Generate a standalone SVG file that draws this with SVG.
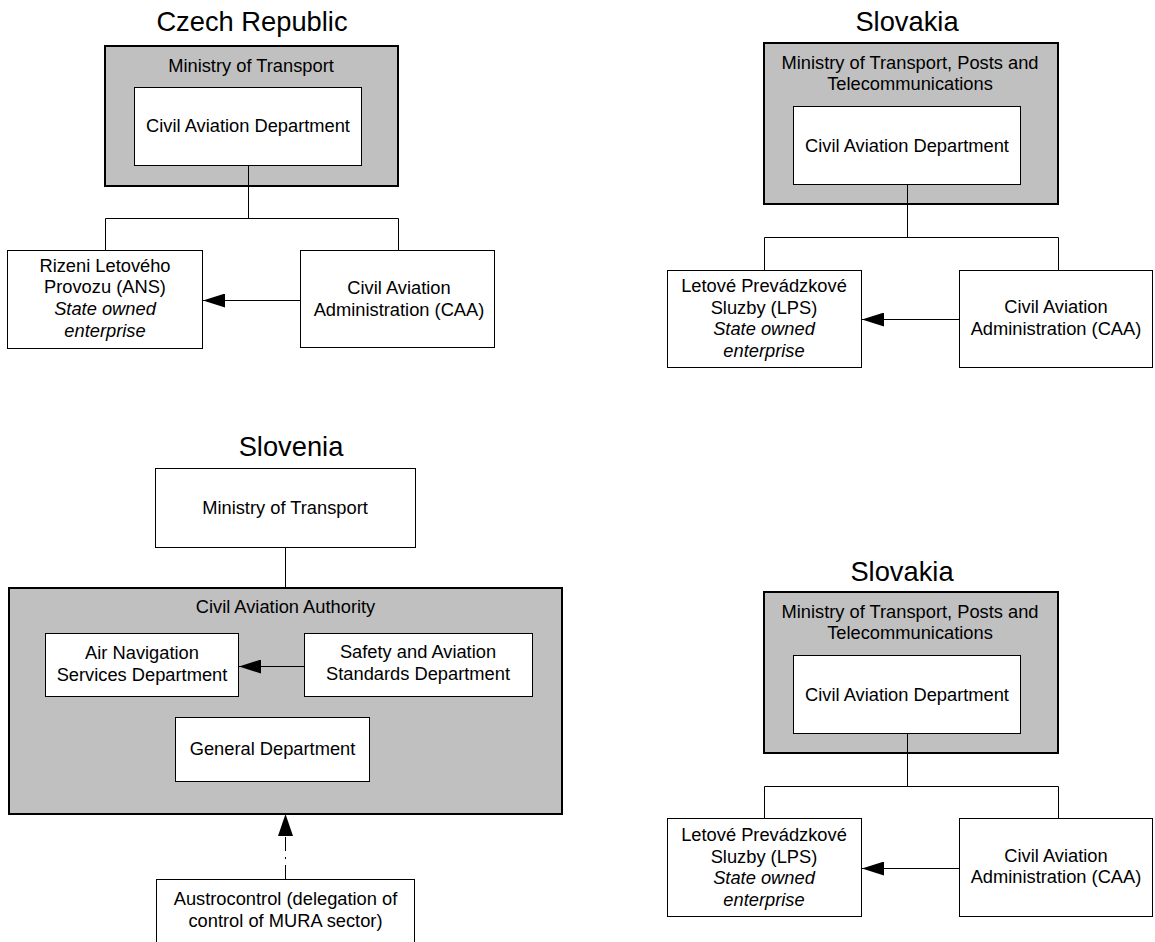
<svg xmlns="http://www.w3.org/2000/svg" width="1155" height="942" viewBox="0 0 1155 942">
<defs>
<style>
text{font-family:"Liberation Sans",Arial,sans-serif;font-size:18.3px;fill:#000;text-anchor:middle}
.title{font-size:27.3px}
.it{font-style:italic}
.outer{fill:#c0c0c0;stroke:#000;stroke-width:2}
.box{fill:#fff;stroke:#000;stroke-width:1}
.con{fill:none;stroke:#000;stroke-width:1}
.dd{stroke-dasharray:14,6,2,6}
</style>
<marker id="arr" markerUnits="userSpaceOnUse" markerWidth="22" markerHeight="14" refX="22" refY="7" orient="auto">
<path d="M0,0 L22,7 L0,14 z" fill="#000"/>
</marker>
</defs>
<rect width="1155" height="942" fill="#fff"/>

<!-- Titles -->
<text class="title" x="252" y="31">Czech Republic</text>
<text class="title" x="907" y="31">Slovakia</text>
<text class="title" x="291" y="456">Slovenia</text>
<text class="title" x="902" y="581">Slovakia</text>

<!-- Czech Republic -->
<g id="cz-ministry">
<rect class="outer" x="105" y="46" width="293" height="140"/>
<text x="251" y="72">Ministry of Transport</text>
</g>
<g id="cz-cad">
<rect class="box" x="134.5" y="87.5" width="227" height="78"/>
<text x="248" y="132">Civil Aviation Department</text>
</g>
<g id="cz-rlp">
<rect class="box" x="7.5" y="250.5" width="195" height="98"/>
<text x="105" y="272">Rizeni Letového</text>
<text x="105" y="293">Provozu (ANS)</text>
<text class="it" x="105" y="315">State owned</text>
<text class="it" x="105" y="337">enterprise</text>
</g>
<g id="cz-caa">
<rect class="box" x="300.5" y="250.5" width="194" height="97"/>
<text x="399" y="294">Civil Aviation</text>
<text x="399" y="316">Administration (CAA)</text>
</g>

<!-- Slovakia top -->
<g id="sk1-ministry">
<rect class="outer" x="764" y="43" width="294" height="161"/>
<text x="910" y="69">Ministry of Transport, Posts and</text>
<text x="910" y="90">Telecommunications</text>
</g>
<g id="sk1-cad">
<rect class="box" x="793.5" y="106.5" width="227" height="78"/>
<text x="907" y="152">Civil Aviation Department</text>
</g>
<g id="sk1-lps">
<rect class="box" x="667.5" y="270.5" width="194" height="97"/>
<text x="764" y="292">Letové Prevádzkové</text>
<text x="764" y="314">Sluzby (LPS)</text>
<text class="it" x="764" y="335">State owned</text>
<text class="it" x="764" y="357">enterprise</text>
</g>
<g id="sk1-caa">
<rect class="box" x="959.5" y="270.5" width="193" height="97"/>
<text x="1056" y="313">Civil Aviation</text>
<text x="1056" y="335">Administration (CAA)</text>
</g>

<!-- Slovenia -->
<g id="si-ministry">
<rect class="box" x="155.5" y="468.5" width="260" height="79"/>
<text x="285" y="514">Ministry of Transport</text>
</g>
<g id="si-caa">
<rect class="outer" x="9" y="588" width="553" height="226"/>
<text x="285.5" y="613">Civil Aviation Authority</text>
</g>
<g id="si-ans">
<rect class="box" x="45.5" y="633.5" width="193" height="63"/>
<text x="142" y="659">Air Navigation</text>
<text x="142" y="681">Services Department</text>
</g>
<g id="si-safety">
<rect class="box" x="304.5" y="633.5" width="228" height="63"/>
<text x="418" y="658">Safety and Aviation</text>
<text x="418" y="680">Standards Department</text>
</g>
<g id="si-general">
<rect class="box" x="175.5" y="717.5" width="194" height="64"/>
<text x="272.5" y="755">General Department</text>
</g>
<g id="si-austro">
<rect class="box" x="156.5" y="879.5" width="258" height="80"/>
<text x="285.5" y="905">Austrocontrol (delegation of</text>
<text x="285.5" y="927">control of MURA sector)</text>
</g>

<!-- Slovakia bottom -->
<g id="sk2-ministry">
<rect class="outer" x="764" y="592" width="294" height="161"/>
<text x="910" y="618">Ministry of Transport, Posts and</text>
<text x="910" y="639">Telecommunications</text>
</g>
<g id="sk2-cad">
<rect class="box" x="793.5" y="655.5" width="227" height="78"/>
<text x="907" y="701">Civil Aviation Department</text>
</g>
<g id="sk2-lps">
<rect class="box" x="667.5" y="818.5" width="194" height="98"/>
<text x="764" y="841">Letové Prevádzkové</text>
<text x="764" y="863">Sluzby (LPS)</text>
<text class="it" x="764" y="884">State owned</text>
<text class="it" x="764" y="906">enterprise</text>
</g>
<g id="sk2-caa">
<rect class="box" x="959.5" y="818.5" width="193" height="98"/>
<text x="1056" y="862">Civil Aviation</text>
<text x="1056" y="883">Administration (CAA)</text>
</g>

<!-- Connectors -->
<g id="connectors">
<path class="con" d="M248.5,166 V218.5 M105.5,250 V218.5 H398.5 V250"/>
<path class="con" d="M300,300.5 H203" marker-end="url(#arr)"/>
<path class="con" d="M907.5,185 V237.5 M764.5,270 V237.5 H1058.5 V270"/>
<path class="con" d="M959,319.5 H862" marker-end="url(#arr)"/>
<path class="con" d="M285.5,548 V588"/>
<path class="con" d="M304,666.5 H239" marker-end="url(#arr)"/>
<path class="con dd" d="M285.5,879 V837"/>
<path d="M278,836 L285.5,814 L293,836 z" fill="#000"/>
<path class="con" d="M907.5,734 V786.5 M764.5,818 V786.5 H1058.5 V818"/>
<path class="con" d="M959,868.5 H862" marker-end="url(#arr)"/>
</g>
</svg>
